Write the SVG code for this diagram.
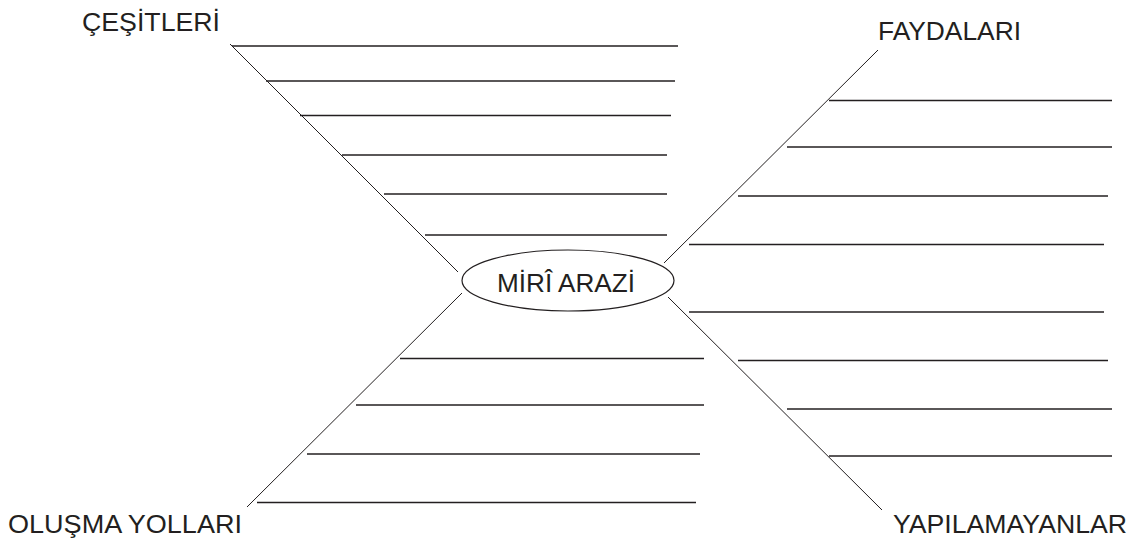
<svg xmlns="http://www.w3.org/2000/svg" width="1133" height="538" viewBox="0 0 1133 538">
  <style>
    .lbl { font-family: "Liberation Sans", Arial, sans-serif; font-size: 26px; fill: #231f20; }
    .rule { stroke: #231f20; stroke-width: 1.4; fill: none; }
    .conn { stroke: #231f20; stroke-width: 1; fill: none; }
  </style>
  <rect width="1133" height="538" fill="#ffffff"/>

  <g id="connectors">
    <line class="conn" x1="230" y1="44" x2="458" y2="272"/>
    <line class="conn" x1="878" y1="50" x2="664" y2="263"/>
    <line class="conn" x1="462" y1="293" x2="247" y2="507"/>
    <line class="conn" x1="668" y1="297" x2="882" y2="510"/>
  </g>

  <g id="center">
    <ellipse cx="568" cy="280.5" rx="106" ry="30.5" fill="#ffffff" stroke="#231f20" stroke-width="1.2"/>
    <text class="lbl" x="497" y="292" textLength="138" lengthAdjust="spacingAndGlyphs">MİRÎ ARAZİ</text>
  </g>

  <g id="cesitleri">
    <text class="lbl" x="82" y="31" textLength="138" lengthAdjust="spacingAndGlyphs">ÇEŞİTLERİ</text>
    <line class="rule" x1="232" y1="46" x2="678" y2="46"/>
    <line class="rule" x1="266" y1="81" x2="675" y2="81"/>
    <line class="rule" x1="300" y1="115.5" x2="671" y2="115.5"/>
    <line class="rule" x1="342" y1="155" x2="667" y2="155"/>
    <line class="rule" x1="384" y1="194" x2="667" y2="194"/>
    <line class="rule" x1="425" y1="235" x2="667" y2="235"/>
  </g>

  <g id="faydalari">
    <text class="lbl" x="878" y="40" textLength="143" lengthAdjust="spacingAndGlyphs">FAYDALARI</text>
    <line class="rule" x1="829" y1="100.5" x2="1112" y2="100.5"/>
    <line class="rule" x1="787" y1="147" x2="1112" y2="147"/>
    <line class="rule" x1="738" y1="196" x2="1108" y2="196"/>
    <line class="rule" x1="689" y1="244.5" x2="1104" y2="244.5"/>
  </g>

  <g id="olusma-yollari">
    <text class="lbl" x="8" y="533" textLength="234" lengthAdjust="spacingAndGlyphs">OLUŞMA YOLLARI</text>
    <line class="rule" x1="400" y1="358.5" x2="704" y2="358.5"/>
    <line class="rule" x1="356" y1="405" x2="704" y2="405"/>
    <line class="rule" x1="307" y1="454" x2="700" y2="454"/>
    <line class="rule" x1="257" y1="502.5" x2="696" y2="502.5"/>
  </g>

  <g id="yapilamayanlar">
    <text class="lbl" x="893" y="533" textLength="234" lengthAdjust="spacingAndGlyphs">YAPILAMAYANLAR</text>
    <line class="rule" x1="689" y1="312" x2="1104" y2="312"/>
    <line class="rule" x1="738" y1="360.5" x2="1108" y2="360.5"/>
    <line class="rule" x1="787" y1="409" x2="1112" y2="409"/>
    <line class="rule" x1="829" y1="456" x2="1112" y2="456"/>
  </g>
</svg>
